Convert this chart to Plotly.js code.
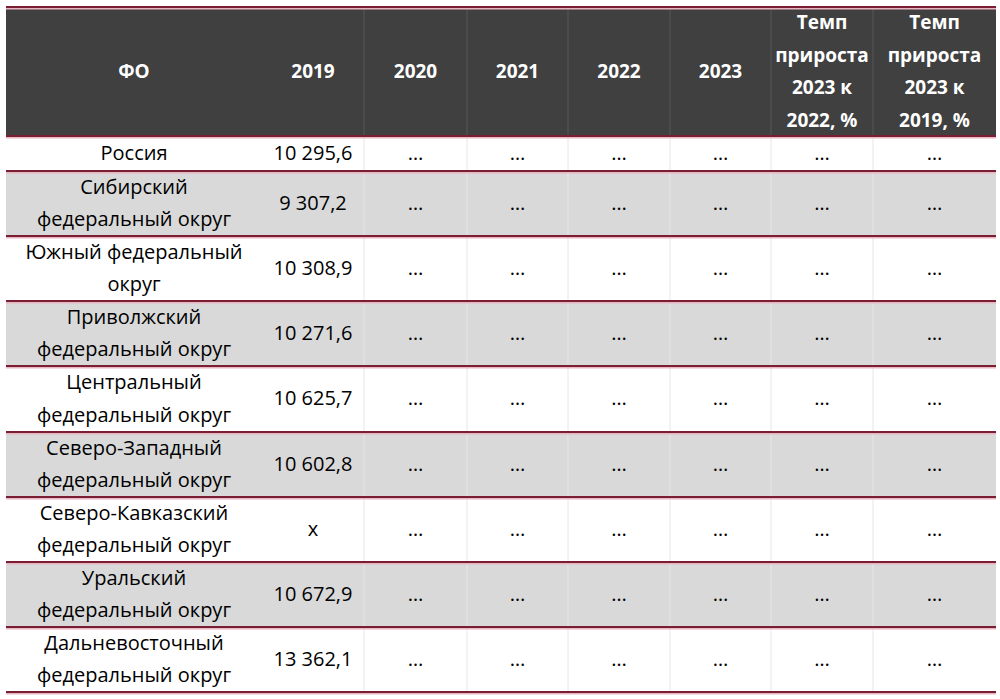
<!DOCTYPE html>
<html>
<head>
<meta charset="utf-8">
<script src="https://cdn.plot.ly/plotly-3.0.1.min.js"></script>
<style>
  html, body { margin: 0; padding: 0; background: #fff; }
  #chart { width: 1000px; height: 699px; }
</style>
</head>
<body>
<div id="chart"></div>
<script>
const headers = [
  "ФО", "2019", "2020", "2021", "2022", "2023",
  "Темп<br>прироста<br>2023 к<br>2022, %",
  "Темп<br>прироста<br>2023 к<br>2019, %"
];

const districts = [
  "Россия",
  "Сибирский<br>федеральный округ",
  "Южный федеральный<br>округ",
  "Приволжский<br>федеральный округ",
  "Центральный<br>федеральный округ",
  "Северо-Западный<br>федеральный округ",
  "Северо-Кавказский<br>федеральный округ",
  "Уральский<br>федеральный округ",
  "Дальневосточный<br>федеральный округ"
];

const values2019 = ["10 295,6", "9 307,2", "10 308,9", "10 271,6", "10 625,7", "10 602,8", "x", "10 672,9", "13 362,1"];
const values2020 = ["…", "…", "…", "…", "…", "…", "…", "…", "…"];
const values2021 = ["…", "…", "…", "…", "…", "…", "…", "…", "…"];
const values2022 = ["…", "…", "…", "…", "…", "…", "…", "…", "…"];
const values2023 = ["…", "…", "…", "…", "…", "…", "…", "…", "…"];
const growth23vs22 = ["…", "…", "…", "…", "…", "…", "…", "…", "…"];
const growth23vs19 = ["…", "…", "…", "…", "…", "…", "…", "…", "…"];

const columns = [districts, values2019, values2020, values2021, values2022, values2023, growth23vs22, growth23vs19];

// grid geometry in page pixels (y grows downwards)
const COL_EDGES = [6, 262, 364, 467, 568, 670, 771, 873, 996];
const ROW_EDGES = [7, 136, 171, 236, 301, 366, 432, 497, 562, 627, 692];

const HEADER_BG = "#404040";
const STRIPE = "#d9d9d9";
const RULE = "#7a1f33";
const RULE_GLOW = "#e8b5c1";
const FONT = '"Open Sans", "DejaVu Sans", sans-serif';

// outer font 25px -> 1.3 line spacing = 32.5px, glyphs drawn smaller through the span
const OUTER_SIZE = 25;
const BODY_SIZE = 20;
const HEAD_SIZE = 19;

function mid(a, b) { return (a + b) / 2; }

function styled(s, bold, size) {
  return s.split("<br>").map(l => {
    const t = bold ? "<b>" + l + "</b>" : l;
    return '<span style="font-size:' + size + 'px">' + t + "</span>";
  }).join("<br>");
}

const colCenters = [];
for (let i = 0; i < COL_EDGES.length - 1; i++) colCenters.push(mid(COL_EDGES[i], COL_EDGES[i + 1]));
const rowCenters = [];
for (let i = 1; i < ROW_EDGES.length - 1; i++) rowCenters.push(mid(ROW_EDGES[i], ROW_EDGES[i + 1]));

const shapes = [];
const left = COL_EDGES[0], right = COL_EDGES[COL_EDGES.length - 1];

// header block
shapes.push({
  type: "rect", layer: "below", x0: left, x1: right, y0: ROW_EDGES[0], y1: ROW_EDGES[1],
  fillcolor: HEADER_BG, line: { width: 0 }
});

// striped body rows
for (let r = 0; r < districts.length; r++) {
  if (r % 2 === 1) {
    shapes.push({
      type: "rect", layer: "below", x0: left, x1: right, y0: ROW_EDGES[r + 1], y1: ROW_EDGES[r + 2],
      fillcolor: STRIPE, line: { width: 0 }
    });
  }
}

// faint vertical separators (none between ФО and 2019)
for (let c = 2; c < COL_EDGES.length - 1; c++) {
  shapes.push({
    type: "line", layer: "below", x0: COL_EDGES[c], x1: COL_EDGES[c], y0: ROW_EDGES[0], y1: ROW_EDGES[1],
    line: { color: "#575757", width: 1 }
  });
  shapes.push({
    type: "line", layer: "below", x0: COL_EDGES[c], x1: COL_EDGES[c], y0: ROW_EDGES[1], y1: ROW_EDGES[ROW_EDGES.length - 1],
    line: { color: "#e6e6e6", width: 1 }
  });
}

// maroon horizontal rules with a pink shadow
ROW_EDGES.forEach(y => {
  shapes.push({
    type: "line", layer: "below", x0: left, x1: right, y0: y + 1.5, y1: y + 1.5,
    line: { color: RULE_GLOW, width: 2 }
  });
  shapes.push({
    type: "line", layer: "below", x0: left, x1: right, y0: y, y1: y,
    line: { color: RULE, width: 2 }
  });
});

const traces = [];

traces.push({
  type: "scatter", mode: "text",
  x: colCenters,
  y: colCenters.map(() => mid(ROW_EDGES[0], ROW_EDGES[1])),
  text: headers.map(h => styled(h, true, HEAD_SIZE)),
  textposition: "middle center",
  textfont: { family: FONT, size: OUTER_SIZE, color: "#ffffff" },
  hoverinfo: "skip", cliponaxis: false, showlegend: false
});

columns.forEach((col, c) => {
  traces.push({
    type: "scatter", mode: "text",
    x: col.map(() => colCenters[c]),
    y: rowCenters,
    text: col.map(v => styled(v, false, BODY_SIZE)),
    textposition: "middle center",
    textfont: { family: FONT, size: OUTER_SIZE, color: "#000000" },
    hoverinfo: "skip", cliponaxis: false, showlegend: false
  });
});

const layout = {
  width: 1000,
  height: 699,
  margin: { l: 0, r: 0, t: 0, b: 0 },
  paper_bgcolor: "#ffffff",
  plot_bgcolor: "#ffffff",
  xaxis: { range: [0, 1000], visible: false, fixedrange: true },
  yaxis: { range: [699, 0], visible: false, fixedrange: true },
  shapes: shapes,
  showlegend: false
};

Plotly.newPlot("chart", traces, layout, { displayModeBar: false, staticPlot: true });
</script>
</body>
</html>
